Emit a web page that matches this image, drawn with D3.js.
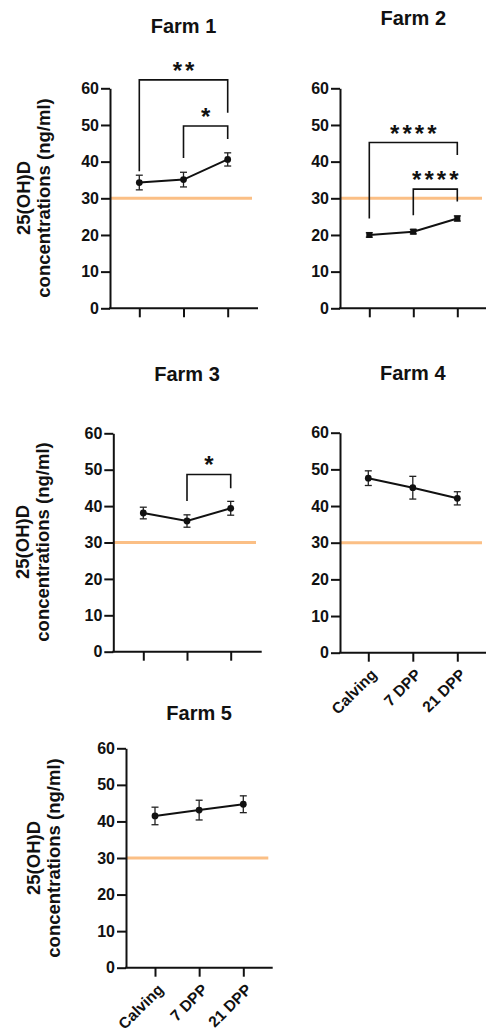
<!DOCTYPE html>
<html>
<head>
<meta charset="utf-8">
<script src="https://cdn.jsdelivr.net/npm/d3@7"></script>
<style>
  body { margin: 0; background: #fff; }
  svg { display: block; font-family: "Liberation Sans", Arial, sans-serif; }
</style>
</head>
<body>
<div id="chart"></div>
<script>
var categories = ["Calving", "7 DPP", "21 DPP"];
var yTicks = [0, 10, 20, 30, 40, 50, 60];
var threshold = 30;

var farm1Mean = [34.3, 35.1, 40.6];
var farm1Err = [2.0, 2.0, 1.8];
var farm2Mean = [20.0, 20.9, 24.5];
var farm2Err = [0.6, 0.6, 0.7];
var farm3Mean = [38.1, 35.9, 39.4];
var farm3Err = [1.6, 1.7, 1.9];
var farm4Mean = [47.6, 45.0, 42.1];
var farm4Err = [2.0, 3.1, 1.8];
var farm5Mean = [41.5, 43.1, 44.7];
var farm5Err = [2.4, 2.7, 2.3];

// significance brackets: from/to = category index, top/left/right = value on y axis
var farm1Sig = [
  {from: 0, to: 2, top: 62.3, left: 37.4, right: 53.3, label: "**"},
  {from: 1, to: 2, top: 49.7, left: 41.0, right: 46.2, label: "*"}
];
var farm2Sig = [
  {from: 0, to: 2, top: 45.2, left: 24.5, right: 41.8, label: "****"},
  {from: 1, to: 2, top: 32.5, left: 25.4, right: 29.1, label: "****"}
];
var farm3Sig = [
  {from: 1, to: 2, top: 48.7, left: 41.4, right: 44.9, label: "*"}
];

var panels = [
  {title: "Farm 1", mean: farm1Mean, err: farm1Err, sig: farm1Sig, marker: "circle",
   left: 110, top: 88.3, bottom: 308.3, first: 139.3, last: 227.7, end: 258, lineEnd: 252,
   titleY: 33, labelX: 30, labelY: 198, yLabel: true, xLabels: false},
  {title: "Farm 2", mean: farm2Mean, err: farm2Err, sig: farm2Sig, marker: "square",
   left: 340, top: 88.3, bottom: 308.3, first: 369.3, last: 457.3, end: 486, lineEnd: 482,
   titleY: 25, yLabel: false, xLabels: false},
  {title: "Farm 3", mean: farm3Mean, err: farm3Err, sig: farm3Sig, marker: "circle",
   left: 113.3, top: 433.3, bottom: 651.7, first: 143.3, last: 230.7, end: 261.7, lineEnd: 256,
   titleY: 381, labelX: 29, labelY: 542, yLabel: true, xLabels: false},
  {title: "Farm 4", mean: farm4Mean, err: farm4Err, sig: [], marker: "circle",
   left: 340, top: 432.7, bottom: 652.7, first: 368.3, last: 457.3, end: 486, lineEnd: 482,
   titleY: 380, yLabel: false, xLabels: true},
  {title: "Farm 5", mean: farm5Mean, err: farm5Err, sig: [], marker: "circle",
   left: 126, top: 748.3, bottom: 967.7, first: 155, last: 243.3, end: 272.7, lineEnd: 268.3,
   titleY: 720, labelX: 40, labelY: 858, yLabel: true, xLabels: true}
];

var svg = d3.select("#chart").append("svg")
    .attr("width", 486)
    .attr("height", 1035);

panels.forEach(function (p) {
    var g = svg.append("g");
    var x = d3.scalePoint().domain(categories).range([p.first, p.last]);
    var y = d3.scaleLinear().domain([0, 60]).range([p.bottom, p.top]);

    // threshold line
    g.append("line")
        .attr("x1", p.left).attr("x2", p.lineEnd)
        .attr("y1", y(threshold)).attr("y2", y(threshold))
        .attr("stroke", "#fbbf85")
        .attr("stroke-width", 3);

    // y axis
    var yAxis = g.append("g")
        .attr("transform", "translate(" + p.left + ",0)")
        .call(d3.axisLeft(y).tickValues(yTicks).tickSize(9).tickSizeOuter(0).tickPadding(2));
    yAxis.attr("font-size", null).attr("font-family", null);
    yAxis.selectAll("path, line").attr("stroke", "#111").attr("stroke-width", 2);
    yAxis.selectAll("text")
        .attr("fill", "#111")
        .attr("font-size", 16)
        .attr("font-weight", "bold");

    // x axis
    var xAxis = g.append("g")
        .attr("transform", "translate(0," + p.bottom + ")")
        .call(d3.axisBottom(x).tickSize(9).tickSizeOuter(0));
    xAxis.attr("font-size", null).attr("font-family", null);
    xAxis.select(".domain").remove();
    xAxis.selectAll("line").attr("stroke", "#111").attr("stroke-width", 2);
    if (p.xLabels) {
        xAxis.selectAll("text")
            .attr("fill", "#111")
            .attr("text-anchor", "end")
            .attr("x", 0).attr("y", 0).attr("dy", "0.35em")
            .attr("transform", "translate(5,19) rotate(-45)")
            .attr("font-size", 15.5)
            .attr("font-weight", "bold");
    } else {
        xAxis.selectAll("text").remove();
    }
    g.append("line")
        .attr("x1", p.left - 1).attr("x2", p.end)
        .attr("y1", p.bottom).attr("y2", p.bottom)
        .attr("stroke", "#111").attr("stroke-width", 2);

    // significance brackets
    p.sig.forEach(function (s) {
        var x0 = x(categories[s.from]), x1 = x(categories[s.to]);
        g.append("path")
            .attr("d", "M" + x0 + "," + y(s.left) + "V" + y(s.top) + "H" + x1 + "V" + y(s.right))
            .attr("fill", "none")
            .attr("stroke", "#111")
            .attr("stroke-width", 1.6);
        g.append("text")
            .attr("x", (x0 + x1) / 2 + 1.5)
            .attr("y", y(s.top) - 1)
            .attr("text-anchor", "middle")
            .attr("font-size", 24)
            .attr("font-weight", "bold")
            .attr("letter-spacing", 3)
            .attr("fill", "#111")
            .text(s.label);
    });

    // error bars
    var bars = g.append("g").attr("stroke", "#222").attr("stroke-width", 1.3);
    p.mean.forEach(function (m, i) {
        var cx = x(categories[i]);
        var lo = y(m - p.err[i]), hi = y(m + p.err[i]);
        bars.append("line").attr("x1", cx).attr("x2", cx).attr("y1", lo).attr("y2", hi);
        bars.append("line").attr("x1", cx - 3.5).attr("x2", cx + 3.5).attr("y1", lo).attr("y2", lo);
        bars.append("line").attr("x1", cx - 3.5).attr("x2", cx + 3.5).attr("y1", hi).attr("y2", hi);
    });

    // mean line
    var line = d3.line()
        .x(function (d, i) { return x(categories[i]); })
        .y(function (d) { return y(d); });
    g.append("path")
        .datum(p.mean)
        .attr("d", line)
        .attr("fill", "none")
        .attr("stroke", "#111")
        .attr("stroke-width", 2);

    // markers
    if (p.marker === "square") {
        g.selectAll(".pt").data(p.mean).enter().append("rect")
            .attr("x", function (d, i) { return x(categories[i]) - 3; })
            .attr("y", function (d) { return y(d) - 3; })
            .attr("width", 6).attr("height", 6)
            .attr("fill", "#111");
    } else {
        g.selectAll(".pt").data(p.mean).enter().append("circle")
            .attr("cx", function (d, i) { return x(categories[i]); })
            .attr("cy", function (d) { return y(d); })
            .attr("r", 3.4)
            .attr("fill", "#111");
    }

    // title
    g.append("text")
        .attr("x", x(categories[1]))
        .attr("y", p.titleY)
        .attr("text-anchor", "middle")
        .attr("font-size", 20)
        .attr("font-weight", "bold")
        .attr("fill", "#111")
        .text(p.title);

    // y label
    if (p.yLabel) {
        var lab = g.append("text")
            .attr("transform", "translate(" + p.labelX + "," + p.labelY + ") rotate(-90)")
            .attr("text-anchor", "middle")
            .attr("font-size", 18.5)
            .attr("font-weight", "bold")
            .attr("fill", "#111");
        lab.append("tspan").attr("x", 0).attr("y", 0).text("25(OH)D");
        lab.append("tspan").attr("x", 0).attr("y", 20).text("concentrations (ng/ml)");
    }
});
</script>
</body>
</html>
